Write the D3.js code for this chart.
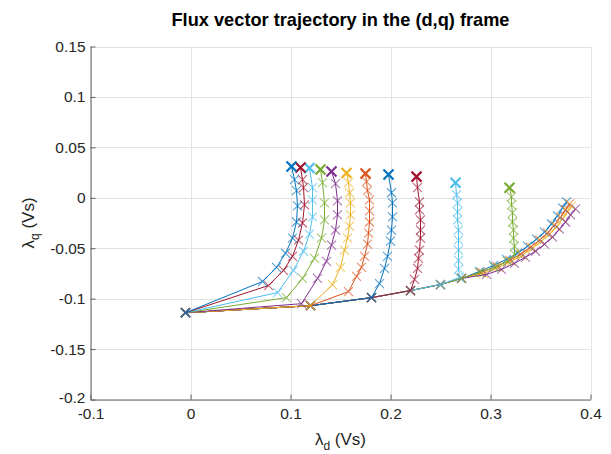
<!DOCTYPE html>
<html>
<head>
<meta charset="utf-8">
<script src="https://cdn.jsdelivr.net/npm/d3@7"></script>
<style>
  html, body { margin: 0; padding: 0; background: #ffffff; }
  svg { display: block; font-family: "Liberation Sans", Arial, sans-serif; }
</style>
</head>
<body>
<svg id="chart" width="611" height="454"></svg>
<script>
// ---------------- DATA ----------------
const xTicks = [-0.1, 0, 0.1, 0.2, 0.3, 0.4];
const xTickLabels = ["-0.1", "0", "0.1", "0.2", "0.3", "0.4"];
const yTicks = [0.15, 0.1, 0.05, 0, -0.05, -0.1, -0.15, -0.2];
const yTickLabels = ["0.15", "0.1", "0.05", "0", "-0.05", "-0.1", "-0.15", "-0.2"];

const origin = [[-0.005, -0.114]];
const mainHead = [[0.120, -0.107], [0.181, -0.099], [0.220, -0.092], [0.250, -0.086], [0.271, -0.080]];

// series along the main curve to its end
const tail1 = [[0.289,-0.073],[0.303,-0.067],[0.316,-0.061],[0.327,-0.055],[0.337,-0.048],[0.346,-0.041],[0.354,-0.034],[0.361,-0.026],[0.367,-0.018],[0.372,-0.010],[0.376,-0.004]];
const tail2 = [[0.291,-0.074],[0.306,-0.068],[0.319,-0.062],[0.330,-0.056],[0.340,-0.049],[0.349,-0.042],[0.357,-0.035],[0.364,-0.027],[0.370,-0.019],[0.375,-0.012],[0.379,-0.006]];
const tail3 = [[0.293,-0.075],[0.308,-0.069],[0.321,-0.063],[0.332,-0.057],[0.342,-0.050],[0.351,-0.043],[0.359,-0.036],[0.366,-0.029],[0.372,-0.021],[0.377,-0.014],[0.381,-0.008]];
const tail4 = [[0.296,-0.076],[0.311,-0.071],[0.324,-0.065],[0.335,-0.059],[0.345,-0.053],[0.354,-0.046],[0.362,-0.039],[0.369,-0.031],[0.375,-0.024],[0.380,-0.017],[0.385,-0.011]];

// series leaving the main curve upwards
const branch5 = [[0.289,-0.074],[0.304,-0.069],[0.317,-0.063],[0.324,-0.056],[0.324,-0.048],[0.323,-0.040],[0.323,-0.032],[0.322,-0.024],[0.322,-0.015],[0.321,-0.007],[0.321,0.001],[0.319,0.010]];
const branch6 = [[0.269,-0.079],[0.268,-0.071],[0.268,-0.062],[0.268,-0.052],[0.268,-0.042],[0.268,-0.032],[0.267,-0.022],[0.267,-0.014],[0.267,-0.005],[0.266,0.003],[0.265,0.015]];
const branch7 = [[0.224,-0.081],[0.227,-0.070],[0.228,-0.060],[0.229,-0.052],[0.230,-0.040],[0.230,-0.032],[0.230,-0.022],[0.229,-0.012],[0.229,-0.004],[0.227,0.010],[0.226,0.021]];
const branch8 = [[0.189,-0.085],[0.194,-0.070],[0.197,-0.058],[0.200,-0.043],[0.201,-0.032],[0.202,-0.019],[0.202,-0.005],[0.201,0.005],[0.198,0.023]];
const branch9 = [[0.158,-0.093],[0.166,-0.078],[0.171,-0.069],[0.174,-0.058],[0.177,-0.046],[0.178,-0.035],[0.179,-0.024],[0.179,-0.013],[0.179,-0.002],[0.177,0.007],[0.176,0.016],[0.175,0.024]];
const branch10 = [[0.142,-0.086],[0.150,-0.069],[0.154,-0.052],[0.157,-0.040],[0.159,-0.028],[0.160,-0.017],[0.160,-0.005],[0.159,0.005],[0.158,0.015],[0.156,0.0245]];
const branch11 = [[0.111,-0.105],[0.127,-0.080],[0.136,-0.063],[0.141,-0.047],[0.145,-0.032],[0.147,-0.017],[0.147,-0.003],[0.145,0.014],[0.141,0.026]];
const branch12 = [[0.096,-0.099],[0.112,-0.080],[0.124,-0.060],[0.131,-0.040],[0.134,-0.022],[0.134,-0.005],[0.132,0.015],[0.130,0.028]];
const branch13 = [[0.087,-0.094],[0.103,-0.072],[0.113,-0.053],[0.119,-0.036],[0.122,-0.019],[0.122,-0.002],[0.122,0.010],[0.119,0.0295]];
const branch14 = [[0.078,-0.087],[0.093,-0.072],[0.102,-0.058],[0.108,-0.042],[0.112,-0.025],[0.114,-0.007],[0.113,0.010],[0.112,0.018],[0.110,0.030]];
const branch15 = [[0.072,-0.083],[0.086,-0.069],[0.095,-0.055],[0.102,-0.040],[0.106,-0.024],[0.107,-0.008],[0.106,0.007],[0.104,0.018],[0.101,0.031]];

const colors = ["#0072BD", "#D95319", "#EDB120", "#7E2F8E", "#77AC30", "#4DBEEE", "#A2142F"];

const series = [
  origin.concat(mainHead, tail1),
  origin.concat(mainHead, tail2),
  origin.concat(mainHead, tail3),
  origin.concat(mainHead, tail4),
  origin.concat(mainHead, branch5),
  origin.concat(mainHead.slice(0, 4), branch6),
  origin.concat(mainHead.slice(0, 3), branch7),
  origin.concat(mainHead.slice(0, 2), branch8),
  origin.concat(mainHead.slice(0, 1), branch9),
  origin.concat(mainHead.slice(0, 1), branch10),
  origin.concat(branch11),
  origin.concat(branch12),
  origin.concat(branch13),
  origin.concat(branch14),
  origin.concat(branch15)
];
const endMarked = [false, false, false, false, true, true, true, true, true, true, true, true, true, true, true];

// ---------------- LAYOUT ----------------
const svg = d3.select("#chart");
const L = 90.5, R = 590.5, T = 46.5, B = 399.5;
const x = d3.scaleLinear().domain([-0.1, 0.4]).range([L, R]);
const y = d3.scaleLinear().domain([-0.2, 0.15]).range([B, T]);

// grid
const grid = svg.append("g");
grid.selectAll("line.gx").data(xTicks).enter().append("line")
  .attr("x1", d => Math.round(x(d)) + 0.5).attr("x2", d => Math.round(x(d)) + 0.5)
  .attr("y1", T).attr("y2", B).attr("stroke", "#e3e3e3").attr("stroke-width", 1);
grid.selectAll("line.gy").data(yTicks).enter().append("line")
  .attr("y1", d => Math.round(y(d)) + 0.5).attr("y2", d => Math.round(y(d)) + 0.5)
  .attr("x1", L).attr("x2", R).attr("stroke", "#e3e3e3").attr("stroke-width", 1);

// data
const line = d3.line().x(d => x(d[0])).y(d => y(d[1]));
const plot = svg.append("g");
series.forEach((pts, i) => {
  const c = colors[i % 7];
  const g = plot.append("g");
  g.append("path").attr("d", line(pts)).attr("fill", "none")
    .attr("stroke", c).attr("stroke-width", 1);
  const ms = 4.5;
  g.selectAll("path.m").data(pts.slice(0, endMarked[i] ? pts.length - 1 : pts.length)).enter().append("path")
    .attr("d", d => { const px = x(d[0]), py = y(d[1]);
      return `M${px-ms},${py-ms}L${px+ms},${py+ms}M${px-ms},${py+ms}L${px+ms},${py-ms}`; })
    .attr("stroke", c).attr("stroke-width", 1.1).attr("stroke-opacity", 0.65).attr("fill", "none");
  if (endMarked[i]) {
    const d = pts[pts.length - 1]; const px = x(d[0]), py = y(d[1]); const s = 5;
    g.append("path")
      .attr("d", `M${px-s},${py-s}L${px+s},${py+s}M${px-s},${py+s}L${px+s},${py-s}`)
      .attr("stroke", c).attr("stroke-width", 2.2).attr("fill", "none");
  }
});

// axes
const axisColor = "#262626";
const xAxis = d3.axisBottom(x).tickValues(xTicks).tickFormat((d, i) => xTickLabels[i]).tickSizeInner(-5).tickSizeOuter(0).tickPadding(8);
const yAxis = d3.axisLeft(y).tickValues(yTicks).tickFormat((d, i) => yTickLabels[i]).tickSizeInner(-5).tickSizeOuter(0).tickPadding(5);
const gx = svg.append("g").attr("transform", `translate(0,${B})`).call(xAxis);
const gy = svg.append("g").attr("transform", `translate(${L},0)`).call(yAxis);
[gx, gy].forEach(g => {
  g.select(".domain").attr("stroke", "#606060");
  g.selectAll(".tick line").attr("stroke", "#606060");
  g.selectAll(".tick text").attr("fill", axisColor).attr("font-size", 15.5).attr("font-family", "Liberation Sans, Arial, sans-serif");
});
// keep the corner labels apart
gy.selectAll(".tick text").filter((d, i) => i === yTicks.length - 1).attr("dy", "0.2em");

// title
svg.append("text").attr("x", (L + R) / 2).attr("y", 26).attr("text-anchor", "middle")
  .attr("font-size", 19).attr("font-weight", "bold").attr("fill", "#000")
  .attr("textLength", 338).attr("lengthAdjust", "spacingAndGlyphs")
  .text("Flux vector trajectory in the (d,q) frame");

// x label
const xl = svg.append("text").attr("x", (L + R) / 2).attr("y", 445).attr("text-anchor", "middle")
  .attr("font-size", 17).attr("fill", axisColor);
xl.append("tspan").text("λ");
xl.append("tspan").attr("dy", 5).attr("font-size", 12).text("d");
xl.append("tspan").attr("dy", -5).text(" (Vs)");

// y label
const yl = svg.append("text").attr("transform", `translate(34,${(T + B) / 2}) rotate(-90)`).attr("text-anchor", "middle")
  .attr("font-size", 17).attr("fill", axisColor);
yl.append("tspan").text("λ");
yl.append("tspan").attr("dy", 5).attr("font-size", 12).text("q");
yl.append("tspan").attr("dy", -5).text(" (Vs)");
</script>
</body>
</html>
